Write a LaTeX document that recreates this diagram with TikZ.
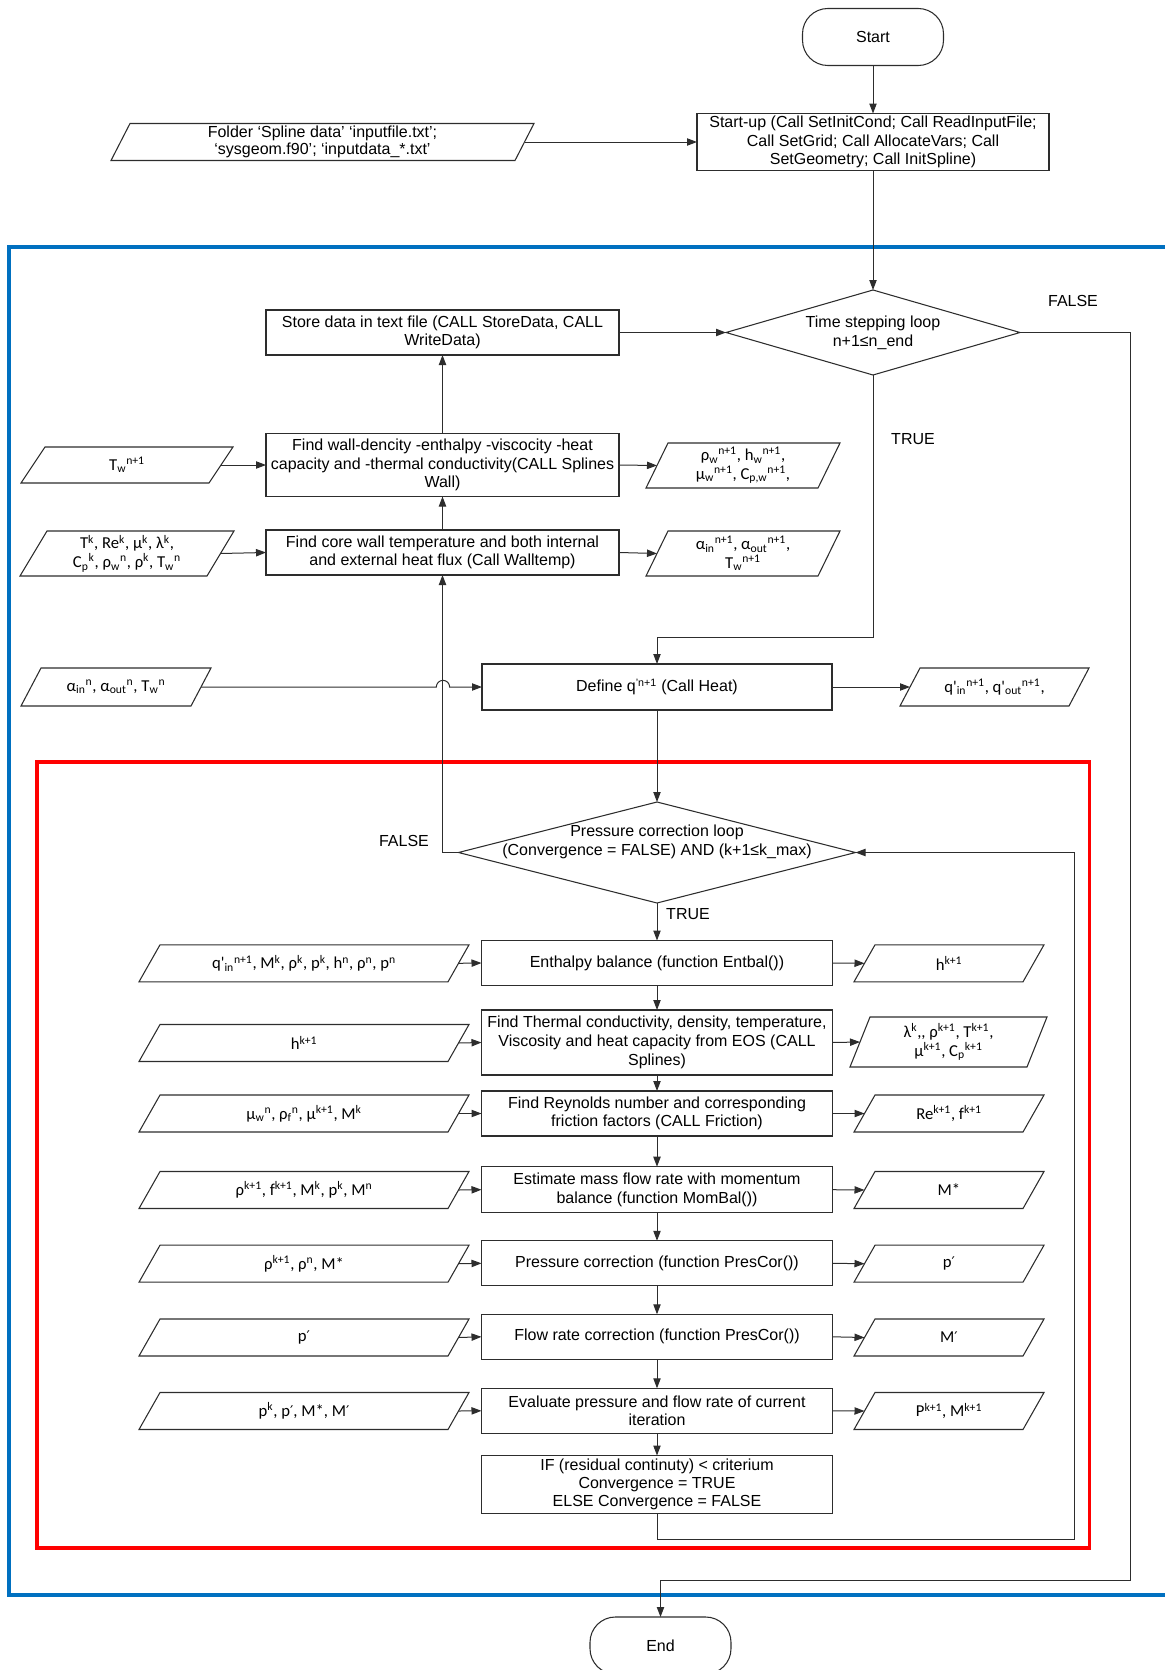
\documentclass[tikz,border=0pt]{standalone}
\usepackage{fontspec}
\setmainfont{Liberation Sans}
\newfontfamily\formfont{Carlito}
\newfontfamily\primefont{DejaVu Sans}
\usetikzlibrary{arrows.meta,calc}
\definecolor{bluefr}{RGB}{0,112,192}
\definecolor{redfr}{RGB}{255,0,0}
\definecolor{ln}{RGB}{45,45,45}
\tikzset{
  wh/.style 2 args={minimum width=#1*0.75pt, minimum height=#2*0.75pt},
  base/.style={font=\fontsize{12}{14}\selectfont, align=center, inner sep=1pt, outer sep=0pt, text=black},
  proc/.style={base, draw=ln, line width=0.8pt, rectangle},
  iotext/.style={font=\formfont\fontsize{12.5}{14}\selectfont, align=center, inner sep=0pt, outer sep=0pt},
  ioline/.style={draw=ln, line width=0.8pt},
  arr/.style={draw=ln, line width=0.75pt, -{Triangle[length=7.5pt,width=5.5pt]}},
  lin/.style={draw=ln, line width=0.75pt},
  lbl/.style={font=\fontsize{12}{14}\selectfont, inner sep=0pt},
  term/.style={base, draw=ln, line width=0.8pt, rounded corners=19pt, minimum width=141*0.75pt, minimum height=57*0.75pt},
  frame/.style={line width=2.8pt}
}
\newcommand{\parabox}[2]{%
  \draw[ioline] ($(#1.south west)+(-#2/2,0)$) -- ($(#1.north west)+(#2/2,0)$) -- ($(#1.north east)+(#2/2,0)$) -- ($(#1.south east)+(-#2/2,0)$) -- cycle;}
\newcommand{\diabox}[1]{%
  \draw[ioline] (#1.west) -- (#1.north) -- (#1.east) -- (#1.south) -- cycle;}
\newcommand{\sbsp}[2]{\textsubscript{#1}\textsuperscript{#2}}
\newcommand{\spx}[1]{\textsuperscript{#1}}
\newcommand{\prm}{{\primefont\fontsize{11}{14}\selectfont ′}}
\begin{document}
\begin{tikzpicture}[x=0.75pt,y=-0.75pt]
\useasboundingbox (0,0) rectangle (1164,1670);
% frames
\draw[bluefr, frame] (9,247) rectangle (1210,1595);
\draw[redfr, frame] (37,762) rectangle (1089.5,1548);

% top
\node[term] (start) at (873,37) {Start};
\node[proc, wh={352}{57}] (startup) at (873,142) {Start-up (Call SetInitCond; Call ReadInputFile;\\ Call SetGrid; Call AllocateVars; Call\\ SetGeometry; Call InitSpline)};
\node[base, wh={404}{37}, font=\fontsize{12}{13}\selectfont] (folder) at (322.5,142) {Folder ‘Spline data’ ‘inputfile.txt’;\\ ‘sysgeom.f90’; ‘inputdata\_*.txt’};
\parabox{folder}{19}

% time loop
\node[base, wh={294}{85}] (tdia) at (873,332.5) {Time stepping loop\\ n+1≤n\_end};
\diabox{tdia}
\node[lbl] (f1) at (1073,301) {FALSE};
\node[lbl] (t1) at (913,439) {TRUE};

\node[proc, wh={353}{45}] (store) at (442.5,332.5) {Store data in text file (CALL StoreData, CALL\\ WriteData)};
\node[proc, wh={353}{63}] (wall) at (442.5,465) {Find wall-dencity -enthalpy -viscocity -heat\\ capacity and -thermal conductivity(CALL Splines\\ Wall)};
\node[proc, wh={353}{45}] (core) at (442.5,552.5) {Find core wall temperature and both internal\\ and external heat flux (Call Walltemp)};

\node[iotext, wh={188}{36}] (tw1) at (127,465) {T\sbsp{w}{n+1}};
\parabox{tw1}{24}
\node[iotext, wh={187}{45}] (tk) at (127,553.5) {T\spx{k}, Re\spx{k}, μ\spx{k}, λ\spx{k},\\ C\sbsp{p}{k}, ρ\sbsp{w}{n}, ρ\spx{k}, T\sbsp{w}{n}};
\parabox{tk}{27}
\node[iotext, wh={172}{45}] (rhow) at (743,465.5) {ρ\sbsp{w}{n+1}, h\sbsp{w}{n+1},\\ μ\sbsp{w}{n+1}, C\sbsp{p,w}{n+1},};
\parabox{rhow}{22}
\node[iotext, wh={172}{45}] (alph) at (743,553.5) {α\sbsp{in}{n+1}, α\sbsp{out}{n+1},\\ T\sbsp{w}{n+1}};
\parabox{alph}{22}

% define q
\node[proc, wh={350}{46}] (defq) at (657,687) {Define q\spx{'n+1} (Call Heat)};
\node[iotext, wh={170}{38}] (ain) at (116,687) {α\sbsp{in}{n}, α\sbsp{out}{n}, T\sbsp{w}{n}};
\parabox{ain}{20}
\node[iotext, wh={169}{38}] (qout) at (994.5,687) {q'\sbsp{in}{n+1}, q'\sbsp{out}{n+1},};
\parabox{qout}{20}

% pressure loop
\node[base, wh={397}{101}] (pdia) at (657,852.5) {};
\diabox{pdia}
\node[base] (pdt) at (657,842) {Pressure correction loop\\ (Convergence = FALSE) AND (k+1≤k\_max)};
\node[lbl] (f2) at (404,841) {FALSE};
\node[lbl] (t2) at (688,914) {TRUE};

\node[proc, wh={351}{45}] (enth) at (657,963) {Enthalpy balance (function Entbal())};
\node[proc, wh={351}{65}] (therm) at (657,1042.5) {Find Thermal conductivity, density, temperature,\\ Viscosity and heat capacity from EOS (CALL\\ Splines)};
\node[proc, wh={351}{45}] (reyn) at (657,1113.5) {Find Reynolds number and corresponding\\ friction factors (CALL Friction)};
\node[proc, wh={351}{46}] (est) at (657,1189.7) {Estimate mass flow rate with momentum\\ balance (function MomBal())};
\node[proc, wh={351}{45}] (pcor) at (657,1263.3) {Pressure correction (function PresCor())};
\node[proc, wh={351}{45}] (flow) at (657,1336.8) {Flow rate correction (function PresCor())};
\node[proc, wh={351}{45}] (eval) at (657,1410.8) {Evaluate pressure and flow rate of current\\ iteration};
\node[proc, wh={351}{58}, font=\fontsize{12}{13.5}\selectfont] (ifb) at (657,1484.5) {IF (residual continuty) {\textless} criterium\\ Convergence = TRUE\\ ELSE Convergence = FALSE};

% inputs
\node[iotext, wh={309}{37}] (i1) at (304,963.3) {q'\sbsp{in}{n+1}, M\spx{k}, ρ\spx{k}, p\spx{k}, h\spx{n}, ρ\spx{n}, p\spx{n}};
\node[iotext, wh={309}{37}] (i2) at (304,1043) {h\spx{k+1}};
\node[iotext, wh={309}{37}] (i3) at (304,1113.5) {μ\sbsp{w}{n}, ρ\sbsp{f}{n}, μ\spx{k+1}, M\spx{k}};
\node[iotext, wh={309}{37}] (i4) at (304,1190) {ρ\spx{k+1}, f\spx{k+1}, M\spx{k}, p\spx{k}, M\spx{n}};
\node[iotext, wh={309}{37}] (i5) at (304,1263.7) {ρ\spx{k+1}, ρ\spx{n}, M*};
\node[iotext, wh={309}{37}] (i6) at (304,1337.5) {p\prm};
\node[iotext, wh={309}{37}] (i7) at (304,1411) {p\spx{k}, p\prm, M*, M\prm};
\foreach \n in {i1,i2,i3,i4,i5,i6,i7} {\parabox{\n}{21}}

% outputs
\node[iotext, wh={169}{37}] (o1) at (949,963.3) {h\spx{k+1}};
\node[iotext, wh={177}{50}] (o2) at (948.5,1042) {λ\spx{k},, ρ\spx{k+1}, T\spx{k+1},\\ μ\spx{k+1}, C\sbsp{p}{k+1}};
\node[iotext, wh={169}{37}] (o3) at (949,1113.5) {Re\spx{k+1}, f\spx{k+1}};
\node[iotext, wh={169}{37}] (o4) at (949,1190) {M*};
\node[iotext, wh={169}{37}] (o5) at (949,1263.7) {p\prm};
\node[iotext, wh={169}{37}] (o6) at (949,1337.5) {M\prm};
\node[iotext, wh={169}{37}] (o7) at (949,1411) {P\spx{k+1}, M\spx{k+1}};
\foreach \n in {o1,o3,o4,o5,o6,o7} {\parabox{\n}{21}}
\parabox{o2}{20}

\node[term] (end) at (660.5,1645.5) {End};

% connectors top
\draw[arr] (start) -- (startup);
\draw[arr] (folder.east) -- (startup.west);
\draw[arr] (startup.south) -- (tdia.north);
\draw[arr] (store.east) -- (tdia.west);
\draw[arr] (wall.north) -- (store.south);
\draw[arr] (core.north) -- (wall.south);
\draw[arr] (tw1.east) -- (wall.west);
\draw[arr] (tk.east) -- (core.west);
\draw[arr] (wall.east) -- (rhow.west);
\draw[arr] (core.east) -- (alph.west);
\draw[arr] (tdia.south) |- ($(defq.north)+(0,-27)$) -- (defq.north);
\draw[arr] (tdia.east) -| (1130,1580) -| (end.north);
\draw[arr] (ain.east) -- (436.3,687) arc[start angle=180,end angle=0,radius=5pt] -- (defq.west);
\draw[arr] (defq.east) -- (qout.west);
\draw[arr] (defq.south) -- (pdia.north);
\draw[arr] (pdia.west) -| (core.south);
\draw[arr] (pdia.south) -- (enth.north);
\draw[arr] (enth) -- (therm);
\draw[arr] (therm) -- (reyn);
\draw[arr] (reyn) -- (est);
\draw[arr] (est) -- (pcor);
\draw[arr] (pcor) -- (flow);
\draw[arr] (flow) -- (eval);
\draw[arr] (eval) -- (ifb);
\draw[arr] (ifb.south) |- (1074,1539) |- (pdia.east);
\foreach \a/\b in {i1/enth,i2/therm,i3/reyn,i4/est,i5/pcor,i6/flow,i7/eval} {\draw[arr] (\a.east) -- (\b.west);}
\foreach \a/\b in {enth/o1,therm/o2,reyn/o3,est/o4,pcor/o5,flow/o6,eval/o7} {\draw[arr] (\a.east) -- (\b.west);}
\end{tikzpicture}
\end{document}
